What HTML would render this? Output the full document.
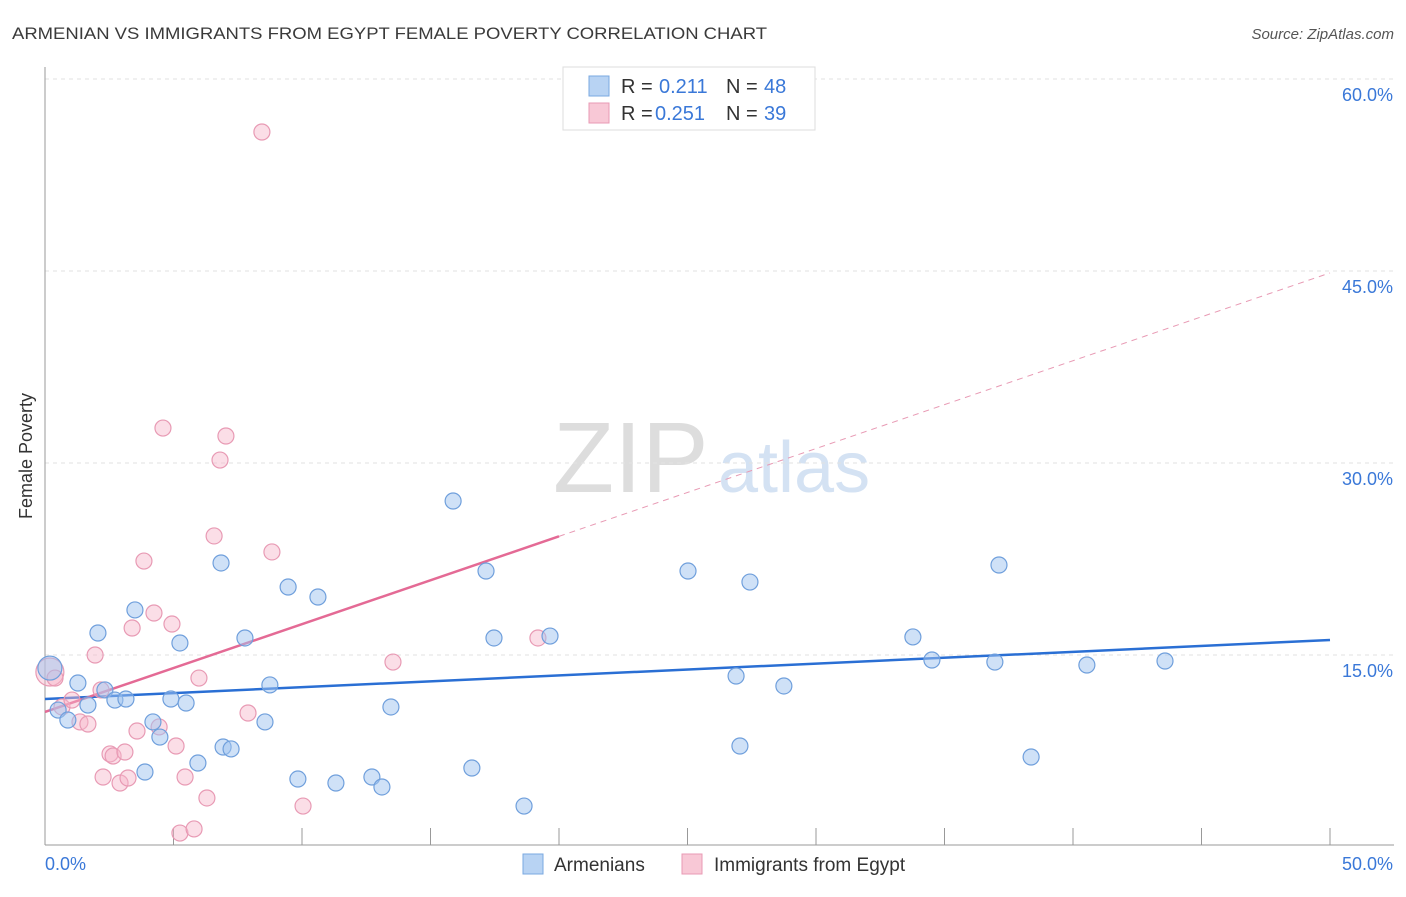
<!DOCTYPE html>
<html><head><meta charset="utf-8"><style>
body{margin:0;background:#fff;font-family:"Liberation Sans",sans-serif;}
svg text{font-family:"Liberation Sans",sans-serif;}
</style></head><body>
<svg id="chart" width="1406" height="892">
<text x="12" y="39" font-size="17" fill="#3a3a3a" textLength="755" lengthAdjust="spacingAndGlyphs">ARMENIAN VS IMMIGRANTS FROM EGYPT FEMALE POVERTY CORRELATION CHART</text>
<text x="1394" y="39" font-size="15" fill="#555" text-anchor="end" font-style="italic">Source: ZipAtlas.com</text>
<text x="32" y="456" font-size="18" fill="#333" text-anchor="middle" transform="rotate(-90 32 456)">Female Poverty</text>
<text x="553" y="492" font-size="100" fill="#ddd" font-family="Liberation Serif">ZIP</text>
<text x="718" y="492" font-size="72" fill="#d4e2f3">atlas</text>
<g id="grid"></g><g id="axes"></g><g id="lines"></g><g id="pts"></g>
<g>
<rect x="563" y="67" width="252" height="63" fill="#fff" stroke="#ddd"/>
<rect x="589" y="76" width="20" height="20" fill="#b8d3f3" stroke="#7aa8e0"/>
<text x="621" y="93" font-size="20" fill="#333">R = </text><text x="659" y="93" font-size="20" fill="#3a78d8">0.211</text>
<text x="726" y="93" font-size="20" fill="#333">N = </text><text x="764" y="93" font-size="20" fill="#3a78d8">48</text>
<rect x="589" y="103" width="20" height="20" fill="#f8c8d6" stroke="#e89ab4"/>
<text x="621" y="120" font-size="20" fill="#333">R = </text><text x="655" y="120" font-size="20" fill="#3a78d8">0.251</text>
<text x="726" y="120" font-size="20" fill="#333">N = </text><text x="764" y="120" font-size="20" fill="#3a78d8">39</text>
</g>
<g>
<rect x="523" y="854" width="20" height="20" fill="#b8d3f3" stroke="#7aa8e0"/>
<text x="554" y="871" font-size="19" fill="#333">Armenians</text>
<rect x="682" y="854" width="20" height="20" fill="#f8c8d6" stroke="#e89ab4"/>
<text x="714" y="871" font-size="19" fill="#333">Immigrants from Egypt</text>
</g>
</svg>
<script>
const yTicks=[15,30,45,60];
const yTickLabels=["15.0%","30.0%","45.0%","60.0%"];
const xTickLabels=["0.0%","50.0%"];
const blueX=[0.19,0.51,0.89,1.28,1.67,2.06,2.33,2.72,3.15,3.50,3.89,4.20,4.47,4.90,5.25,5.49,5.95,6.85,6.93,7.24,7.78,8.56,8.75,9.46,9.84,10.62,11.32,12.72,13.11,13.46,15.88,16.61,17.16,17.47,18.64,19.65,25.02,26.89,27.04,27.43,28.75,33.77,34.51,36.96,37.12,38.37,40.54,43.58];
const blueY=[13.98,10.70,9.92,12.81,11.09,16.72,12.27,11.48,11.56,18.52,5.86,9.77,8.59,11.56,15.94,11.25,6.56,22.19,7.81,7.66,16.33,9.77,12.66,20.31,5.31,19.53,5.00,5.47,4.69,10.94,27.03,6.17,21.56,16.33,3.20,16.48,21.56,13.36,7.89,20.70,12.58,16.41,14.61,14.45,22.03,7.03,14.22,14.53];
const pinkX=[0.19,0.39,0.66,1.05,1.36,1.67,1.95,2.18,2.26,2.53,2.65,2.92,3.11,3.23,3.39,3.58,3.85,4.24,4.44,4.59,4.94,5.10,5.25,5.45,5.80,5.99,6.30,6.58,6.81,7.04,7.90,8.44,8.83,10.04,13.54,19.18];
const pinkY=[13.67,13.20,10.94,11.48,9.77,9.61,15.0,12.27,5.47,7.27,7.11,5.0,7.42,5.39,17.11,9.06,22.34,18.28,9.38,32.73,17.42,7.89,1.09,5.47,1.41,13.20,3.83,24.30,30.23,32.11,10.47,55.86,23.05,3.20,14.45,16.33];
const blueTrend=[11.56,16.17];
const pinkTrend=[10.55,44.85];
const NS="http://www.w3.org/2000/svg";
const X=v=>45+v*25.7, Y=v=>847-v*12.8;
function mk(tag,attrs,parent){const e=document.createElementNS(NS,tag);for(const k in attrs)e.setAttribute(k,attrs[k]);document.getElementById(parent).appendChild(e);return e;}
yTicks.forEach((t,i)=>{
 const l=mk('line',{x1:45,x2:1394,y1:Y(t),y2:Y(t),stroke:'#e2e2e2','stroke-dasharray':'4 4'},'grid');
 
 
 const tx=mk('text',{x:1393,y:Y(t)+22,'font-size':18,fill:'#3a78d8','text-anchor':'end'},'grid');
 tx.textContent=yTickLabels[i];
 
 
});
let ax=mk('line',{x1:45,x2:45,y1:67,y2:845,stroke:'#999'},'axes');


let bx=mk('line',{x1:45,x2:1394,y1:845,y2:845,stroke:'#999'},'axes');


for(let i=0;i<=10;i++){const tk=mk('line',{x1:X(i*5),x2:X(i*5),y1:828,y2:845,stroke:'#999'},'axes');
 
 }
[[0,"start",45],[50,"end",1393]].forEach((a,i)=>{const tx=mk('text',{x:a[2],y:870,'font-size':18,fill:'#3a78d8','text-anchor':a[1]},'axes');tx.textContent=xTickLabels[i];
 
 });
let bl=mk('line',{x1:X(0),y1:Y(blueTrend[0]),x2:X(50),y2:Y(blueTrend[1]),stroke:'#2a6fd4','stroke-width':2.5},'lines');


const pAt=v=>pinkTrend[0]+(pinkTrend[1]-pinkTrend[0])*v/50;
let pd=mk('line',{x1:X(20),y1:Y(pAt(20)),x2:X(50),y2:Y(pAt(50)),stroke:'#e89ab4','stroke-width':1,'stroke-dasharray':'6 5'},'lines');


let ps=mk('line',{x1:X(0),y1:Y(pAt(0)),x2:X(20),y2:Y(pAt(20)),stroke:'#e46a95','stroke-width':2.5},'lines');


pinkX.forEach((x,i)=>{const c=mk('circle',{cx:X(x),cy:Y(pinkY[i]),r:i==0?14:8,fill:'rgba(246,182,202,0.45)',stroke:'#e89ab4','stroke-width':1.2},'pts');
 
 });
blueX.forEach((x,i)=>{const c=mk('circle',{cx:X(x),cy:Y(blueY[i]),r:i==0?12:8,fill:'rgba(160,196,240,0.5)',stroke:'#6f9fdc','stroke-width':1.2},'pts');
 
 });
</script>
</body></html>
